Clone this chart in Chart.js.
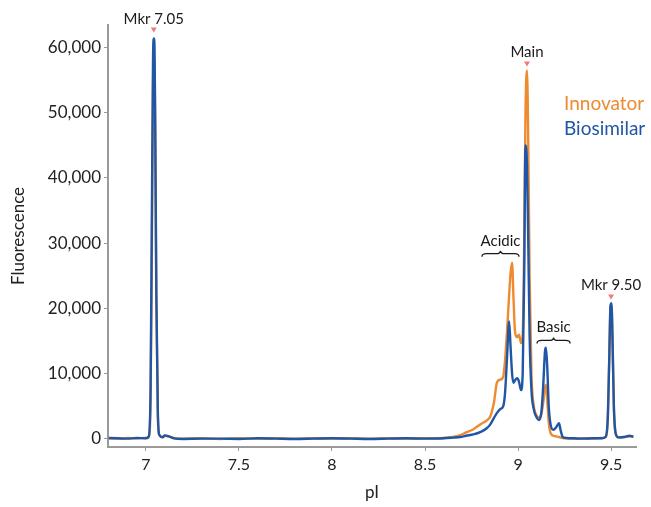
<!DOCTYPE html>
<html>
<head>
<meta charset="utf-8">
<script src="https://cdn.jsdelivr.net/npm/chart.js@4.4.1/dist/chart.umd.min.js"></script>
<style>
html,body{margin:0;padding:0;background:#fff;}
#wrap{position:relative;width:651px;height:507px;}
</style>
</head>
<body>
<div id="wrap"><canvas id="c" width="651" height="507"></canvas></div>
<script>
// ---- data ----
const pI = [6.80,6.85,6.90,6.95,7.00,7.015,7.025,7.032,7.038,7.042,7.046,7.050,7.056,7.064,7.072,7.09,7.10,7.12,7.15,7.2,7.3,7.4,7.5,7.6,7.7,7.8,7.9,8.0,8.1,8.2,8.3,8.4,8.5,8.6,8.65,8.69,8.72,8.76,8.80,8.83,8.85,8.87,8.887,8.905,8.92,8.93,8.94,8.952,8.96,8.968,8.975,8.984,8.995,9.005,9.016,9.025,9.033,9.040,9.048,9.055,9.062,9.072,9.085,9.100,9.112,9.125,9.135,9.145,9.150,9.157,9.165,9.175,9.19,9.205,9.22,9.23,9.24,9.26,9.30,9.35,9.40,9.45,9.47,9.482,9.490,9.497,9.502,9.508,9.515,9.525,9.54,9.57,9.60,9.62];
const innovator = [100,50,150,100,150,300,6000,30000,54000,58500,57000,45000,20000,3500,600,300,500,400,150,50,100,0,100,50,100,50,100,50,100,50,100,50,100,150,300,600,1000,1500,2300,2800,3400,5500,8700,9100,9500,12000,16200,22000,25500,27000,22000,16400,15600,16000,14700,16000,30000,50000,56500,45000,25000,10000,5000,3600,3300,3800,5500,7800,8300,6000,2500,900,500,400,300,200,150,100,50,100,50,150,300,3000,12000,20000,20500,15000,5000,800,200,300,400,350];
const biosimilar = [150,100,50,150,100,400,8000,35000,58000,61400,60200,48000,22000,4000,600,250,550,450,100,0,50,50,0,100,50,0,50,100,50,0,50,100,50,100,200,300,500,700,1100,1600,2200,3200,4000,4600,5000,7000,12000,18000,14000,10000,8600,9000,9300,8800,7500,10000,25000,45000,42000,30000,16000,7500,4500,3300,2900,4000,8000,13500,14000,11000,5000,2200,1400,1800,2400,1200,300,150,100,50,100,100,300,3000,12000,20500,20800,15000,5000,800,250,300,500,350];
const xTicks = [7, 7.5, 8, 8.5, 9, 9.5];
const yTicks = [0, 10000, 20000, 30000, 40000, 50000, 60000];
const seriesNames = ['Innovator', 'Biosimilar'];
const peakLabels = ['Mkr 7.05', 'Main', 'Mkr 9.50'];
const rangeLabels = ['Acidic', 'Basic'];

const ORANGE = '#EE8A2F';
const BLUE = '#1F56A6';
const FONT = 'Lato, "Open Sans", sans-serif';

const toPts = (xs, ys) => xs.map((x, i) => ({x: x, y: ys[i]}));

// annotation placements (data coordinates)
const peakMarks = [
  {text: peakLabels[0], x: 7.042, y: 62600},
  {text: peakLabels[1], x: 9.048, y: 57400},
  {text: peakLabels[2], x: 9.500, y: 21700}
];
const braces = [
  {text: rangeLabels[0], x0: 8.806, x1: 9.005, y: 28400},
  {text: rangeLabels[1], x0: 9.102, x1: 9.280, y: 15100}
];

const annot = {
  id: 'annot',
  afterDraw(chart) {
    const ctx = chart.ctx, xs = chart.scales.x, ys = chart.scales.y;
    ctx.save();
    ctx.textAlign = 'center';
    ctx.textBaseline = 'alphabetic';
    ctx.font = '15px ' + FONT;
    peakMarks.forEach(p => {
      const px = xs.getPixelForValue(p.x), py = ys.getPixelForValue(p.y);
      ctx.fillStyle = '#F07A7A';
      ctx.beginPath();
      ctx.moveTo(px - 3, py - 3);
      ctx.lineTo(px + 3, py - 3);
      ctx.lineTo(px, py + 2);
      ctx.closePath();
      ctx.fill();
      ctx.fillStyle = '#1a1a1a';
      ctx.fillText(p.text, px, py - 7);
    });
    braces.forEach(b => {
      const a = xs.getPixelForValue(b.x0), c = xs.getPixelForValue(b.x1);
      const y = ys.getPixelForValue(b.y);
      const m = (a + c) / 2, h = 3;
      ctx.strokeStyle = '#1a1a1a';
      ctx.lineWidth = 1.3;
      ctx.beginPath();
      ctx.moveTo(a, y + h);
      ctx.quadraticCurveTo(a, y, a + h * 1.5, y);
      ctx.lineTo(m - h * 1.5, y);
      ctx.quadraticCurveTo(m, y, m, y - h);
      ctx.quadraticCurveTo(m, y, m + h * 1.5, y);
      ctx.lineTo(c - h * 1.5, y);
      ctx.quadraticCurveTo(c, y, c, y + h);
      ctx.stroke();
      ctx.fillStyle = '#1a1a1a';
      ctx.fillText(b.text, m, y - 8);
    });
    // legend text
    ctx.textAlign = 'left';
    ctx.font = '19px ' + FONT;
    ctx.fillStyle = ORANGE;
    ctx.fillText(seriesNames[0], 564, 110);
    ctx.fillStyle = BLUE;
    ctx.fillText(seriesNames[1], 564, 135);
    ctx.restore();
  }
};

new Chart(document.getElementById('c'), {
  type: 'line',
  data: {
    datasets: [
      {label: seriesNames[1], data: toPts(pI, biosimilar), borderColor: BLUE, borderWidth: 2.4, pointRadius: 0, cubicInterpolationMode: 'monotone', order: 0},
      {label: seriesNames[0], data: toPts(pI, innovator), borderColor: ORANGE, borderWidth: 2.4, pointRadius: 0, cubicInterpolationMode: 'monotone', order: 1}
    ]
  },
  options: {
    responsive: false,
    animation: false,
    events: [],
    layout: {padding: {top: 25, right: 15, left: 4, bottom: 0}},
    plugins: {legend: {display: false}, tooltip: {enabled: false}},
    scales: {
      x: {
        type: 'linear', min: 6.796, max: 9.634,
        afterBuildTicks: s => { s.ticks = xTicks.map(v => ({value: v})); },
        afterFit: s => { s.height = 60; },
        grid: {display: true, drawOnChartArea: false, drawTicks: true, tickLength: 4, color: '#999'},
        border: {display: true, color: '#9a9a9a', width: 2},
        ticks: {color: '#222', font: {family: FONT, size: 16}, padding: 4, maxRotation: 0, callback: v => String(v)},
        title: {display: true, text: 'pI', color: '#222', font: {family: FONT, size: 17}, padding: {top: 12}}
      },
      y: {
        type: 'linear', min: -1230, max: 63450,
        afterBuildTicks: s => { s.ticks = yTicks.map(v => ({value: v})); },
        afterFit: s => { s.width = 104; },
        grid: {display: true, drawOnChartArea: false, drawTicks: true, tickLength: 4, color: '#999'},
        border: {display: true, color: '#9a9a9a', width: 2},
        ticks: {color: '#222', font: {family: FONT, size: 17}, padding: 3, callback: v => v.toLocaleString('en-US')},
        title: {display: true, text: 'Fluorescence', color: '#222', font: {family: FONT, size: 17}, padding: {bottom: 0}}
      }
    }
  },
  plugins: [annot]
});
</script>
</body>
</html>
